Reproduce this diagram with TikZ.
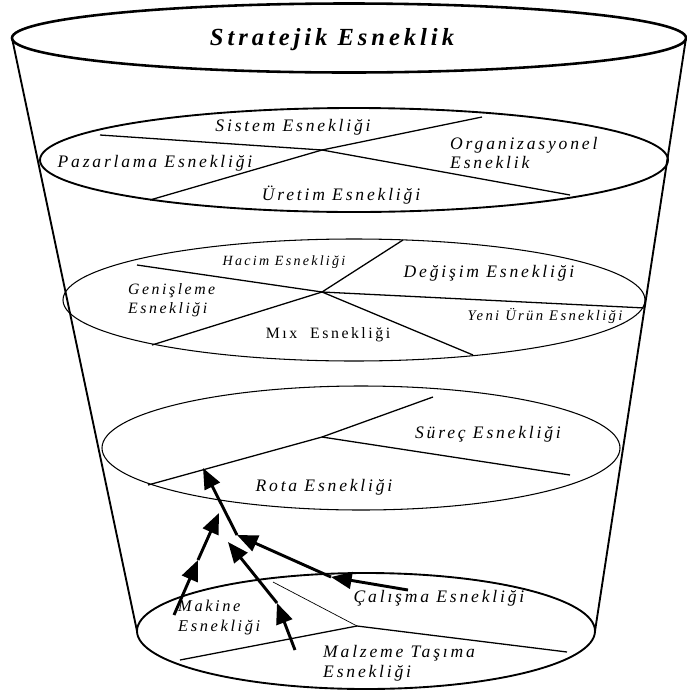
\documentclass[tikz,border=0pt]{standalone}
\usepackage{fontspec}
\setmainfont{Liberation Serif}
\newfontfamily\lblfont[LetterSpace=16]{Liberation Serif}
\usetikzlibrary{arrows.meta,shapes.geometric}
\tikzset{
  disc/.style={ellipse, draw, inner sep=0pt, outer sep=0pt},
  lbl/.style={font=\lblfont\itshape\fontsize{15}{17}\selectfont, inner sep=0pt},
  ray/.style={line width=1.1pt},
  flow/.style={-{Triangle[length=6.2mm,width=5mm]}, line width=2.5pt},
}

\begin{document}
\begin{tikzpicture}[x=0.03cm,y=-0.03cm]
\useasboundingbox (0,0) rectangle (686,690);
% the five levels of the cone
\node[disc, line width=2.2pt, minimum width=20.22cm, minimum height=2.07cm](strat) at (349,38) {};
\node[disc, line width=1.6pt, minimum width=18.84cm, minimum height=3.12cm](sys) at (354,160) {};
\node[disc, line width=0.9pt, minimum width=17.46cm, minimum height=3.66cm](prod) at (354,300) {};
\node[disc, line width=0.9pt, minimum width=15.54cm, minimum height=3.72cm](proc) at (361,448) {};
\node[disc, line width=1.6pt, minimum width=13.74cm, minimum height=3.48cm](base) at (366,631) {};
\draw[line width=1.6pt](strat.west)--(base.west);
\draw[line width=1.6pt](strat.east)--(base.east);

% dividing lines
\coordinate (h2) at (322,150);
\coordinate (h3) at (322,292);
\coordinate (h4) at (322,437);
\coordinate (h5) at (357,626);
\foreach \p in {(100,135),(150,200),(482,117),(570,195)} \draw[ray](h2)--\p;
\foreach \p in {(137,265),(152,345),(403,240),(645,308),(473,355)} \draw[ray](h3)--\p;
\foreach \p in {(433,397),(570,475),(148,485)} \draw[ray](h4)--\p;
\foreach \p in {(180,660),(567,652)} \draw[ray](h5)--\p;
\draw[line width=0.6pt](h5)--(273,582);

% labels
\node[lbl, font=\lblfont\itshape\bfseries\fontsize{21}{24}\selectfont](tstrat) at (332,40) {Stratejik Esneklik};
\node[lbl](tsis) at (293,127) {Sistem Esnekliği};
\node[lbl](tpaz) at (155,163) {Pazarlama Esnekliği};
\node[lbl, anchor=west, align=left](torg) at (450,153) {Organizasyonel\\Esneklik};
\node[lbl](turt) at (341,195) {Üretim Esnekliği};
\node[lbl, font=\lblfont\itshape\fontsize{12}{14}\selectfont](thac) at (284,262) {Hacim Esnekliği};
\node[lbl, font=\lblfont\itshape\fontsize{15}{17}\selectfont](tdeg) at (489,273) {Değişim Esnekliği};
\node[lbl, anchor=west, align=left, font=\lblfont\itshape\fontsize{13.5}{16}\selectfont](tgen) at (128,300) {Genişleme\\Esnekliği};
\node[lbl, font=\lblfont\upshape\fontsize{13.5}{16}\selectfont](tmix) at (328,335) {Mıx\ \ Esnekliği};
\node[lbl, font=\lblfont\itshape\fontsize{12.5}{14}\selectfont](tyen) at (545,316) {Yeni Ürün Esnekliği};
\node[lbl](tsur) at (488,434) {Süreç Esnekliği};
\node[lbl](trot) at (324,487) {Rota Esnekliği};
\node[lbl, anchor=west, align=left, font=\lblfont\itshape\fontsize{14}{17}\selectfont](tmak) at (178,618) {Makine\\Esnekliği};
\node[lbl](tcal) at (439,598) {Çalışma Esnekliği};
\node[lbl, anchor=west, align=left, font=\lblfont\itshape\fontsize{15}{17}\selectfont](tmal) at (323,663) {Malzeme Taşıma\\Esnekliği};

% flows towards the routing level
\coordinate (mk0) at (174,615); \coordinate (mk1) at (198,560); \coordinate (mk2) at (219,513);
\coordinate (mz0) at (295,650); \coordinate (mz1) at (277,603); \coordinate (mz2) at (228,542);
\coordinate (cl0) at (408,590); \coordinate (cl1) at (331,577); \coordinate (cl2) at (237,535);
\coordinate (rt2) at (203,468);
\draw[flow](mk0)--(mk1); \draw[flow](mk1)--(mk2);
\draw[flow](mz0)--(mz1); \draw[flow](mz1)--(mz2);
\draw[flow](cl0)--(cl1); \draw[flow](cl1)--(cl2);
\draw[flow](cl2)--(rt2);
\end{tikzpicture}
\end{document}
